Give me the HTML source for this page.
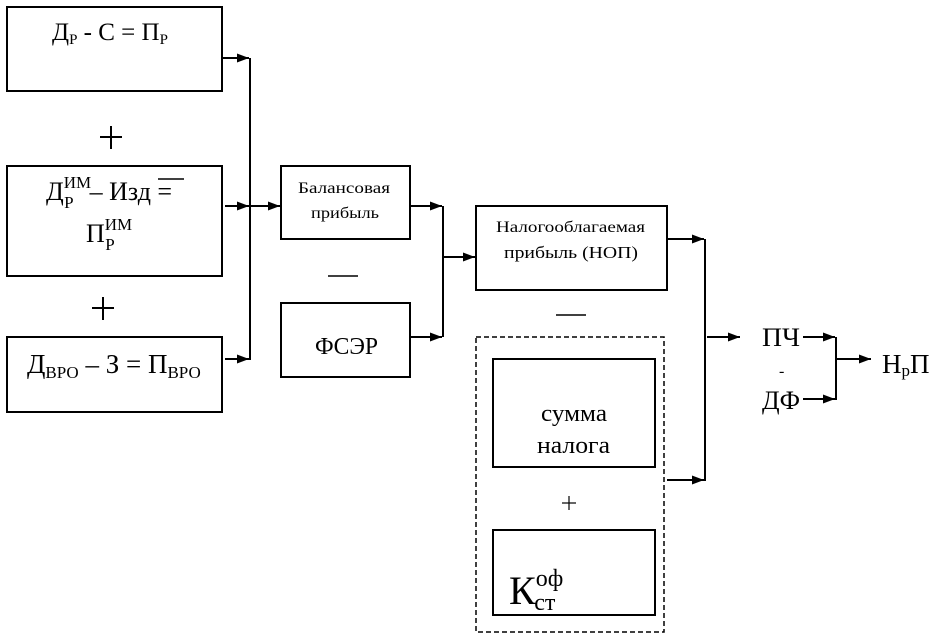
<!DOCTYPE html>
<html><head><meta charset="utf-8"><style>
html,body{margin:0;padding:0;background:#fff;}
svg{display:block;font-family:"Liberation Serif","DejaVu Serif",serif;}
</style></head><body>
<svg width="944" height="641" viewBox="0 0 944 641" xmlns="http://www.w3.org/2000/svg">
<defs><marker id="a" markerWidth="12" markerHeight="9" refX="12" refY="4.5" orient="auto" markerUnits="userSpaceOnUse"><path d="M0,0 L12,4.5 L0,9 z" fill="#000"/></marker></defs>
<g fill="none" stroke="#000" stroke-width="2">
<rect x="7" y="7" width="215" height="84"/>
<rect x="7" y="166" width="215" height="110"/>
<rect x="7" y="337" width="215" height="75"/>
<rect x="281" y="166" width="129" height="73"/>
<rect x="281" y="303" width="129" height="74"/>
<rect x="476" y="206" width="191" height="84"/>
<rect x="476" y="337" width="188" height="295" stroke-dasharray="5,3" stroke-width="1.5"/>
<rect x="493" y="359" width="162" height="108"/>
<rect x="493" y="530" width="162" height="85"/>
<line x1="250" y1="58" x2="250" y2="360"/>
<line x1="222" y1="58" x2="249" y2="58" marker-end="url(#a)"/>
<line x1="225" y1="206" x2="249" y2="206" marker-end="url(#a)"/>
<line x1="250" y1="206" x2="280" y2="206" marker-end="url(#a)"/>
<line x1="225" y1="359" x2="249" y2="359" marker-end="url(#a)"/>
<line x1="443" y1="206" x2="443" y2="337"/>
<line x1="410" y1="206" x2="442" y2="206" marker-end="url(#a)"/>
<line x1="410" y1="337" x2="442" y2="337" marker-end="url(#a)"/>
<line x1="443" y1="257" x2="475" y2="257" marker-end="url(#a)"/>
<line x1="705" y1="239" x2="705" y2="481"/>
<line x1="667" y1="239" x2="704" y2="239" marker-end="url(#a)"/>
<line x1="667" y1="480" x2="704" y2="480" marker-end="url(#a)"/>
<line x1="707" y1="337" x2="740" y2="337" marker-end="url(#a)"/>
<line x1="803" y1="337" x2="835" y2="337" marker-end="url(#a)"/>
<line x1="803" y1="399" x2="835" y2="399" marker-end="url(#a)"/>
<line x1="836" y1="337" x2="836" y2="400"/>
<line x1="836" y1="359" x2="871" y2="359" marker-end="url(#a)"/>
<line x1="158" y1="179" x2="184" y2="179" stroke-width="1.5"/>
</g>
<g fill="#000" stroke="#000" stroke-width="2">
<line x1="100" y1="137" x2="122" y2="137"/><line x1="111" y1="126" x2="111" y2="149"/>
<line x1="92" y1="308" x2="114" y2="308"/><line x1="103" y1="297" x2="103" y2="320"/>
<line x1="328" y1="276" x2="358" y2="276" stroke-width="1.5"/>
<line x1="556" y1="315" x2="586" y2="315" stroke-width="1.5"/>
<line x1="562" y1="503" x2="576" y2="503" stroke-width="1.2"/><line x1="569" y1="496" x2="569" y2="510" stroke-width="1.2"/>
</g>
<g fill="#000" stroke="none">
<text x="52" y="40" font-size="25">Д<tspan font-size="15" dy="4">Р</tspan><tspan dy="-4"> - С = П</tspan><tspan font-size="15" dy="4">Р</tspan></text>
<text x="46" y="200" font-size="26">Д<tspan font-size="17" dy="-12">ИМ</tspan><tspan font-size="17" dx="-27" dy="20">Р</tspan><tspan dx="16" dy="-8">– Изд =</tspan></text>
<text x="86" y="242" font-size="26">П<tspan font-size="17" dy="-12">ИМ</tspan><tspan font-size="17" dx="-27" dy="20">Р</tspan></text>
<text x="27" y="373" font-size="27">Д<tspan font-size="17" dy="5">ВРО</tspan><tspan dy="-5"> – З = П</tspan><tspan font-size="17" dy="5">ВРО</tspan></text>
<text x="298" y="193" font-size="16" textLength="92" lengthAdjust="spacingAndGlyphs">Балансовая</text>
<text x="311" y="218" font-size="16" textLength="68" lengthAdjust="spacingAndGlyphs">прибыль</text>
<text x="315" y="354" font-size="24" textLength="63" lengthAdjust="spacingAndGlyphs">ФСЭР</text>
<text x="496" y="232" font-size="16" textLength="149" lengthAdjust="spacingAndGlyphs">Налогооблагаемая</text>
<text x="504" y="258" font-size="17" textLength="134" lengthAdjust="spacingAndGlyphs">прибыль (НОП)</text>
<text x="541" y="421" font-size="24" textLength="66" lengthAdjust="spacingAndGlyphs">сумма</text>
<text x="537" y="453" font-size="24" textLength="73" lengthAdjust="spacingAndGlyphs">налога</text>
<text x="509" y="604" font-size="40">К<tspan font-size="24" dy="-18">оф</tspan><tspan font-size="24" dx="-29" dy="24">ст</tspan></text>
<text x="762" y="346" font-size="26" textLength="38" lengthAdjust="spacingAndGlyphs">ПЧ</text>
<text x="779" y="376" font-size="16">-</text>
<text x="762" y="409" font-size="26" textLength="38" lengthAdjust="spacingAndGlyphs">ДФ</text>
<text x="882" y="373" font-size="27">Н<tspan font-size="17" dy="3">р</tspan><tspan dy="-3">П</tspan></text>
</g>
</svg>
</body></html>
